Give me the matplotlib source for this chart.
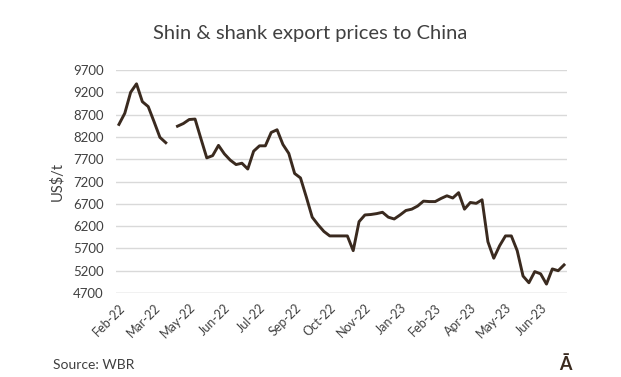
import numpy as np
import pandas as pd
import matplotlib
matplotlib.use("Agg")
import matplotlib.pyplot as plt

# Weekly shin & shank export prices to China (US$/t), one gap in late Mar-22
semanas = pd.date_range("2022-02-07", periods=77, freq="7D")
precos = [
    8480, 8730, 9200, 9390, 8990, 8880, 8540, 8190, 8070, np.nan,
    8440, 8500, 8590, 8600, 8160, 7730, 7780, 8010, 7820, 7680,
    7580, 7610, 7480, 7880, 8000, 8000, 8300, 8360, 8030, 7830,
    7380, 7280, 6850, 6400, 6230, 6080, 5980, 5980, 5980, 5980,
    5650, 6300, 6450, 6460, 6480, 6510, 6400, 6360, 6450, 6550,
    6580, 6650, 6760, 6750, 6750, 6820, 6880, 6830, 6950, 6580,
    6730, 6710, 6790, 5850, 5480, 5760, 5980, 5980, 5650, 5080,
    4930, 5180, 5130, 4900, 5240, 5200, 5330,
]
rotulos_y = [4700, 5200, 5700, 6200, 6700, 7200, 7700, 8200, 8700, 9200, 9700]

# Rotulos do eixo x a cada 6 semanas
pos_x = list(range(0, len(semanas), 6))
rotulos_x = [semanas[i].strftime("%b-%y") for i in pos_x]

plt.rcParams["font.family"] = ["Lato", "DejaVu Sans"]

fig = plt.figure(figsize=(6.21, 3.77), dpi=100)
ax = fig.add_axes([0.1868, 0.2228, 0.7262, 0.5915])

ax.plot(range(len(precos)), precos, color="#3a2a1f", linewidth=2.1,
        solid_joinstyle="round", zorder=3)

ax.set_xlim(-0.5, len(precos) - 0.5)
ax.set_ylim(4700, 9700)
ax.set_yticks(rotulos_y)
ax.set_yticklabels([str(v) for v in rotulos_y], fontsize=9.5, color="#404040")
ax.set_xticks(pos_x)
ax.set_xticklabels(rotulos_x, rotation=45, ha="right", rotation_mode="anchor",
                   fontsize=9, color="#404040")
ax.tick_params(axis="both", length=0)
ax.tick_params(axis="y", pad=9)
ax.tick_params(axis="x", pad=6)

ax.grid(axis="y", color="#d9d9d9", linewidth=1)
for lado in ["top", "right", "left", "bottom"]:
    ax.spines[lado].set_visible(False)
ax.axhline(4700, color="#d9d9d9", linewidth=1, zorder=1)

ax.set_ylabel("US$/t", fontsize=10.5, color="#404040", labelpad=6)

fig.text(0.5, 0.912, "Shin & shank export prices to China", ha="center",
         va="center", fontsize=14.5, color="#404040")
fig.text(0.085, 0.032, "Source: WBR", ha="left", va="center", fontsize=10,
         color="#404040")
fig.text(0.91, 0.032, "Ā", ha="center", va="center", fontsize=13,
         fontweight="bold", color="#3a2a1f")

plt.savefig("out.png", dpi=100)
